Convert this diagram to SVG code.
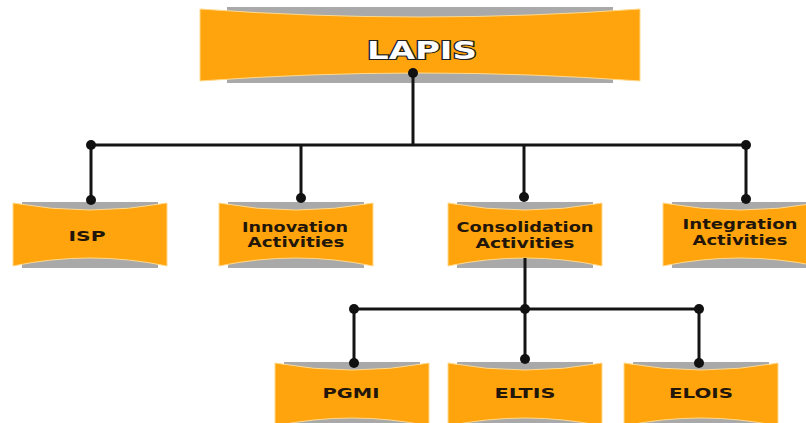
<svg xmlns="http://www.w3.org/2000/svg" xmlns:xlink="http://www.w3.org/1999/xlink" width="806" height="423" viewBox="0 0 806 423">
  <style>
    .band { fill: #a9a9a9; }
    .plate { fill: #ffa40c; stroke: #ffd98c; stroke-width: 1; }
    .label { font-family: "DejaVu Sans", "Liberation Sans", sans-serif; font-weight: bold; font-size: 14px; fill: #22160a; text-anchor: middle; }
    .title { font-family: "DejaVu Sans", "Liberation Sans", sans-serif; font-weight: bold; font-size: 24px; fill: #ffffff; stroke: #1e1e1e; stroke-width: 2.2; paint-order: stroke; text-anchor: middle; }
    .wire { stroke: #141414; stroke-width: 3; fill: none; }
    .dot { fill: #111111; }
  </style>
  <defs>
    <!-- Small box: grey band behind an orange plate with concave top and bottom -->
    <g id="box">
      <rect class="band" x="-68" y="0" width="136" height="66"/>
      <path class="plate" d="M-77,1 Q0,15 77,1 L77,64 Q0,48 -77,64 Z"/>
    </g>
  </defs>

  <rect width="806" height="423" fill="#ffffff"/>

  <!-- Root node -->
  <g id="node-lapis">
    <rect class="band" x="227" y="7" width="386" height="76"/>
    <path class="plate" d="M200,9 Q420,25 640,9 L640,81 Q420,65 200,81 Z"/>
    <text class="title" x="422" y="59" textLength="110" lengthAdjust="spacingAndGlyphs">LAPIS</text>
  </g>

  <!-- Second row -->
  <g id="node-isp" transform="translate(90,202)">
    <use href="#box" xlink:href="#box"/>
    <text class="label" x="-3" y="39" textLength="37" lengthAdjust="spacingAndGlyphs">ISP</text>
  </g>
  <g id="node-innovation" transform="translate(296,202)">
    <use href="#box" xlink:href="#box"/>
    <text class="label" x="-1" y="30" textLength="106" lengthAdjust="spacingAndGlyphs">Innovation</text>
    <text class="label" x="0" y="45" textLength="97" lengthAdjust="spacingAndGlyphs">Activities</text>
  </g>
  <g id="node-consolidation" transform="translate(525,202)">
    <use href="#box" xlink:href="#box"/>
    <text class="label" x="0" y="30" textLength="137" lengthAdjust="spacingAndGlyphs">Consolidation</text>
    <text class="label" x="0" y="46" textLength="99" lengthAdjust="spacingAndGlyphs">Activities</text>
  </g>
  <g id="node-integration" transform="translate(740,202)">
    <use href="#box" xlink:href="#box"/>
    <text class="label" x="0" y="27" textLength="115" lengthAdjust="spacingAndGlyphs">Integration</text>
    <text class="label" x="0" y="43" textLength="95" lengthAdjust="spacingAndGlyphs">Activities</text>
  </g>

  <!-- Third row -->
  <g id="node-pgmi" transform="translate(352,362)">
    <use href="#box" xlink:href="#box"/>
    <text class="label" x="-1" y="36" textLength="57" lengthAdjust="spacingAndGlyphs">PGMI</text>
  </g>
  <g id="node-eltis" transform="translate(525,362)">
    <use href="#box" xlink:href="#box"/>
    <text class="label" x="0" y="36" textLength="61" lengthAdjust="spacingAndGlyphs">ELTIS</text>
  </g>
  <g id="node-elois" transform="translate(701,362)">
    <use href="#box" xlink:href="#box"/>
    <text class="label" x="0" y="36" textLength="64" lengthAdjust="spacingAndGlyphs">ELOIS</text>
  </g>

  <!-- Connectors -->
  <g id="connectors">
    <path class="wire" d="M413,73 V145 M91,145 H746 M91,145 V200 M301,145 V198 M524,145 V197 M746,145 V199"/>
    <path class="wire" d="M525,258 V359 M354,309 H699 M354,309 V363 M699,309 V363"/>
    <circle class="dot" cx="413" cy="73" r="5"/>
    <circle class="dot" cx="91" cy="145" r="5"/>
    <circle class="dot" cx="746" cy="145" r="5"/>
    <circle class="dot" cx="91" cy="200" r="5"/>
    <circle class="dot" cx="301" cy="198" r="5"/>
    <circle class="dot" cx="524" cy="197" r="5"/>
    <circle class="dot" cx="746" cy="199" r="5"/>
    <circle class="dot" cx="354" cy="309" r="5"/>
    <circle class="dot" cx="525" cy="309" r="5"/>
    <circle class="dot" cx="699" cy="309" r="5"/>
    <circle class="dot" cx="354" cy="363" r="5"/>
    <circle class="dot" cx="525" cy="359" r="5"/>
    <circle class="dot" cx="699" cy="363" r="5"/>
  </g>
</svg>
